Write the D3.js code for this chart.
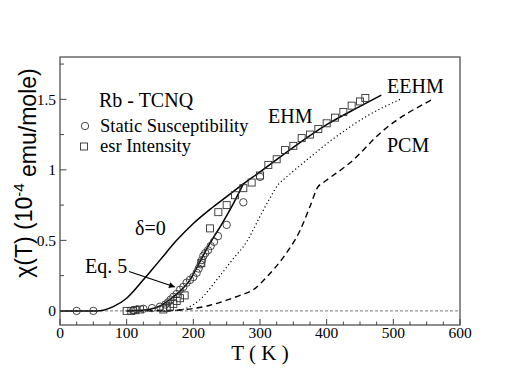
<!DOCTYPE html>
<html>
<head>
<meta charset="utf-8">
<script src="https://cdn.jsdelivr.net/npm/d3@7"></script>
<style>
  html, body { margin: 0; padding: 0; background: #fff; }
  svg { display: block; }
  text { fill: #000; }
</style>
</head>
<body>
<svg width="518" height="382"></svg>
<script>
// data: [T (K), chi (1e-4 emu/mole)]
const staticChi = [
  [25, 0], [50, 0], [110, 0.005], [115, 0.01], [125, 0.015], [138, 0.02],
  [150, 0.03], [158, 0.045], [162, 0.06], [166, 0.08], [170, 0.1], [175, 0.12],
  [180, 0.15], [185, 0.17], [190, 0.2], [195, 0.22], [200, 0.24], [205, 0.27],
  [208, 0.3], [211, 0.33], [213, 0.36], [215, 0.39], [218, 0.41], [222, 0.43],
  [226, 0.46], [231, 0.49], [237, 0.53], [250, 0.61], [275, 0.77], [300, 0.95]
]
const esrChi = [
  [100, 0], [107, 0], [113, 0.005], [120, 0.01], [155, 0.01], [160, 0.02],
  [165, 0.03], [170, 0.05], [175, 0.07], [180, 0.09], [187, 0.11], [212, 0.34],
  [225, 0.585], [237.5, 0.7], [250, 0.75], [262.5, 0.82], [275, 0.87],
  [287.5, 0.91], [300, 0.96], [312.5, 1.035], [325, 1.075], [337.5, 1.14],
  [350, 1.17], [362.5, 1.225], [375, 1.25], [387.5, 1.29], [400, 1.33],
  [412.5, 1.37], [425, 1.41], [437.5, 1.455], [450, 1.485], [458, 1.51]
]
// delta = 0 curve, continues as EEHM
const deltaZero = [
  [0, 0], [55, 0], [65, 0.005], [80, 0.03], [100, 0.09], [125, 0.22],
  [150, 0.36], [175, 0.5], [200, 0.62], [225, 0.72], [250, 0.81], [275, 0.9],
  [300, 0.985], [350, 1.16], [400, 1.32], [450, 1.45], [482, 1.53]
]
const eq5 = [
  [100, 0], [120, 0.004], [135, 0.012], [150, 0.035], [160, 0.064], [170, 0.1],
  [180, 0.14], [195, 0.22], [210, 0.35], [225, 0.48], [242, 0.61], [260, 0.76],
  [275, 0.9]
]
const ehm = [
  [150, 0], [175, 0.005], [190, 0.02], [210, 0.08], [235, 0.22], [260, 0.37],
  [280, 0.49], [300, 0.67], [315, 0.8], [328, 0.9], [335, 0.93], [360, 1.03],
  [410, 1.22], [460, 1.38], [510, 1.5]
]
const pcm = [
  [100, 0], [150, 0.001], [175, 0.005], [200, 0.017], [225, 0.04], [250, 0.076],
  [270, 0.11], [290, 0.15], [310, 0.24], [335, 0.38], [360, 0.57], [375, 0.74],
  [387, 0.88], [395, 0.91], [435, 1.05], [485, 1.28], [559, 1.5]
]
const zeroLine = [[0, 0], [600, 0]]

const xTicks = [0, 100, 200, 300, 400, 500, 600]
const yTicks = [0, 0.5, 1, 1.5]
const yTickLabels = ['0', '0.5', '1', '1.5']

const serif = '"Liberation Serif", "Times New Roman", Times, serif'
const sans = '"Liberation Sans", Arial, Helvetica, sans-serif'

let svg = d3.select('svg')
const x = d3.scaleLinear().domain([0, 600]).range([60, 460])
const y = d3.scaleLinear().domain([-0.1, 1.8]).range([325, 57])

// clip to the plot box
svg.append('clipPath').attr('id', 'plotClip')
  .append('rect')
  .attr('x', x(0)).attr('y', y(1.8))
  .attr('width', x(600) - x(0)).attr('height', y(-0.1) - y(1.8))

const plot = svg.append('g').attr('clip-path', 'url(#plotClip)')

const line = d3.line()
  .x((d) => x(d[0]))
  .y((d) => y(d[1]))
  .curve(d3.curveMonotoneX)

// reference line at zero
plot.append('path')
  .datum(zeroLine)
  .attr('d', d3.line().x((d) => x(d[0])).y((d) => y(d[1])))
  .attr('fill', 'none')
  .attr('stroke', '#555')
  .attr('stroke-width', 0.8)
  .attr('stroke-dasharray', '3,2')

// PCM dashed
plot.append('path')
  .datum(pcm)
  .attr('d', line)
  .attr('fill', 'none')
  .attr('stroke', '#000')
  .attr('stroke-width', 1.4)
  .attr('stroke-dasharray', '6,4')

// EHM dotted
plot.append('path')
  .datum(ehm)
  .attr('d', line)
  .attr('fill', 'none')
  .attr('stroke', '#000')
  .attr('stroke-width', 1.2)
  .attr('stroke-dasharray', '1.2,2.6')

// solid curves
;[deltaZero, eq5].forEach((curve) => {
  plot.append('path')
    .datum(curve)
    .attr('d', line)
    .attr('fill', 'none')
    .attr('stroke', '#000')
    .attr('stroke-width', 1.5)
})

// symbols
plot.append('g')
  .selectAll('circle')
  .data(staticChi)
  .enter()
  .append('circle')
  .attr('cx', (d) => x(d[0]))
  .attr('cy', (d) => y(d[1]))
  .attr('r', 3.7)
  .attr('fill', 'none')
  .attr('stroke', '#333')
  .attr('stroke-width', 0.9)

plot.append('g')
  .selectAll('rect')
  .data(esrChi)
  .enter()
  .append('rect')
  .attr('x', (d) => x(d[0]) - 3.5)
  .attr('y', (d) => y(d[1]) - 3.5)
  .attr('width', 7)
  .attr('height', 7)
  .attr('fill', 'none')
  .attr('stroke', '#333')
  .attr('stroke-width', 0.9)

// frame
svg.append('rect')
  .attr('x', x(0)).attr('y', y(1.8))
  .attr('width', x(600) - x(0)).attr('height', y(-0.1) - y(1.8))
  .attr('fill', 'none')
  .attr('stroke', '#444')
  .attr('stroke-width', 1.2)

// x ticks (inward)
const xAxis = svg.append('g').attr('transform', `translate(0,${y(-0.1)})`)
xAxis.selectAll('line.minor')
  .data(d3.range(0, 601, 25))
  .enter()
  .append('line')
  .attr('x1', (d) => x(d)).attr('x2', (d) => x(d))
  .attr('y1', 0).attr('y2', (d) => (d % 100 === 0 ? -6 : -3.5))
  .attr('stroke', '#444')
  .attr('stroke-width', 1)
xAxis.selectAll('text')
  .data(xTicks)
  .enter()
  .append('text')
  .attr('x', (d) => x(d))
  .attr('y', 13)
  .attr('text-anchor', 'middle')
  .style('font-family', serif)
  .style('font-size', '15.5px')
  .text((d) => d)

// y ticks (inward)
const yAxis = svg.append('g').attr('transform', `translate(${x(0)},0)`)
yAxis.selectAll('line')
  .data(d3.range(0, 1.76, 0.25))
  .enter()
  .append('line')
  .attr('y1', (d) => y(d)).attr('y2', (d) => y(d))
  .attr('x1', 0).attr('x2', (d, i) => (i % 2 === 0 ? 6.5 : 4))
  .attr('stroke', '#444')
  .attr('stroke-width', 1)
yAxis.selectAll('text')
  .data(yTicks)
  .enter()
  .append('text')
  .attr('x', -4)
  .attr('y', (d) => y(d))
  .attr('dy', '0.34em')
  .attr('text-anchor', 'end')
  .style('font-family', serif)
  .style('font-size', '15.5px')
  .text((d, i) => yTickLabels[i])

// axis titles
svg.append('text')
  .attr('x', 260)
  .attr('y', 360)
  .attr('text-anchor', 'middle')
  .style('font-family', serif)
  .style('font-size', '21px')
  .text('T ( K )')

const yTitle = svg.append('text')
  .attr('transform', 'translate(32,173) rotate(-90)')
  .attr('text-anchor', 'middle')
  .style('font-family', sans)
  .style('font-size', '23px')
yTitle.append('tspan').text('\u03c7(T) (10')
yTitle.append('tspan').attr('dy', '-0.55em').style('font-size', '15px').text('-4')
yTitle.append('tspan').attr('dy', '0.55em').text(' emu/mole)')

// legend
svg.append('text')
  .attr('x', 99).attr('y', 107)
  .style('font-family', serif)
  .style('font-size', '20px')
  .text('Rb - TCNQ')
svg.append('circle')
  .attr('cx', 85).attr('cy', 126).attr('r', 3.7)
  .attr('fill', 'none').attr('stroke', '#333').attr('stroke-width', 0.9)
svg.append('text')
  .attr('x', 100).attr('y', 132)
  .style('font-family', serif)
  .style('font-size', '18.5px')
  .text('Static Susceptibility')
svg.append('rect')
  .attr('x', 84 - 3.5).attr('y', 146.5 - 3.5).attr('width', 7).attr('height', 7)
  .attr('fill', 'none').attr('stroke', '#333').attr('stroke-width', 0.9)
svg.append('text')
  .attr('x', 100).attr('y', 152)
  .style('font-family', serif)
  .style('font-size', '18.5px')
  .text('esr Intensity')

// curve labels
const labels = [
  { t: '\u03b4=0', x: 135, y: 235 },
  { t: 'Eq. 5', x: 85, y: 273 },
  { t: 'EHM', x: 268, y: 123 },
  { t: 'EEHM', x: 387, y: 93 },
  { t: 'PCM', x: 387, y: 152 },
]
svg.selectAll('text.lbl')
  .data(labels)
  .enter()
  .append('text')
  .attr('class', 'lbl')
  .attr('x', (d) => d.x)
  .attr('y', (d) => d.y)
  .style('font-family', serif)
  .style('font-size', '20px')
  .text((d) => d.t)

// arrow from Eq. 5 label to the curve
svg.append('defs').append('marker')
  .attr('id', 'arrowHead')
  .attr('viewBox', '0 0 10 10')
  .attr('refX', 10).attr('refY', 5)
  .attr('markerWidth', 8).attr('markerHeight', 6)
  .attr('markerUnits', 'userSpaceOnUse')
  .attr('orient', 'auto')
  .append('path')
  .attr('d', 'M0,0L10,5L0,10z')
  .attr('fill', '#000')
svg.append('line')
  .attr('x1', 129).attr('y1', 271.5)
  .attr('x2', 175).attr('y2', 287)
  .attr('stroke', '#000')
  .attr('stroke-width', 1.2)
  .attr('marker-end', 'url(#arrowHead)')
</script>
</body>
</html>
